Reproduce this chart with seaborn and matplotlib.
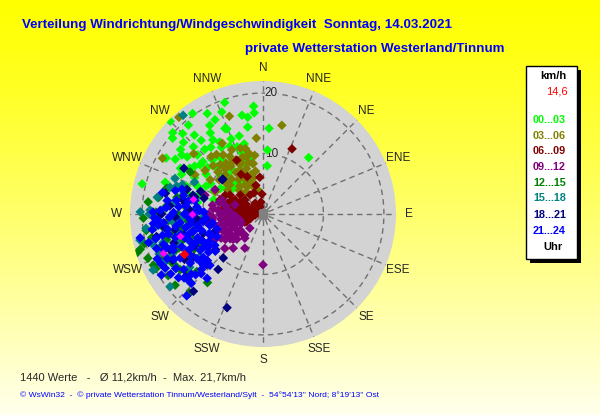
import numpy as np
import pandas as pd
import matplotlib
matplotlib.use("Agg")
import matplotlib.pyplot as plt
import matplotlib.patches as patches
import seaborn as sns

sns.set_style("white")
plt.rcParams['font.family'] = ['Liberation Sans', 'DejaVu Sans']

# wind direction (deg) and speed (km/h), per 3 hour block
periods = ['00...03', '03...06', '06...09', '09...12', '12...15', '15...18', '18...21', '21...24']
colors = ['#00FF00', '#808000', '#800000', '#800080', '#008000', '#008080', '#000080', '#0000FF']

dir_00 = [315, 325, 331, 338, 348, 355, 329, 337, 350, 312, 315, 319, 320, 326, 329, 334, 312, 318, 302, 307,
          312, 308, 314, 339, 341, 349, 4, 4, 5, 286, 288, 316, 321, 302, 308, 355, 39, 284, 351, 336,
          310, 317, 323, 305, 298, 300, 312, 325, 333, 295, 290, 296, 318, 305, 280, 286, 328, 343, 300, 310,
          284, 287, 282, 322, 327, 333, 311, 305, 299, 315, 330, 337, 345, 320, 341, 306, 293, 318, 340, 328,
          311, 301, 296]
spd_00 = [21.7, 20.3, 19.0, 18.2, 16.7, 17.9, 17.1, 15.3, 14.6, 20.1, 18.8, 17.3, 15.9, 14.8, 13.9, 12.5, 17.7, 14.4, 17.1, 15.7,
          14.6, 17.3, 16.0, 11.9, 10.7, 9.6, 10.6, 14.2, 8.0, 16.0, 17.0, 10.9, 10.5, 14.3, 13.2, 16.8, 12.0, 20.6, 16.2, 15.5,
          12.0, 12.2, 11.5, 11.5, 12.8, 10.0, 9.5, 9.0, 8.0, 9.0, 13.5, 15.0, 7.0, 7.5, 11.0, 8.5, 13.0, 13.5, 18.5, 19.5,
          12.5, 11.0, 13.8, 14.0, 16.0, 17.5, 13.2, 13.8, 15.6, 11.0, 10.0, 13.5, 12.0, 19.2, 19.5, 16.6, 11.8, 8.5, 9.0, 6.0,
          6.5, 8.2, 10.5]

dir_03 = [319, 341, 12, 355, 299, 311, 329, 344, 349, 340, 348, 332, 316, 303, 328, 311, 295, 339, 333, 319,
          348, 307, 300, 347, 340, 255, 325, 336, 320, 343, 314, 322, 330, 337, 345, 310, 326, 318, 304, 333,
          341, 330, 352, 322, 315, 327, 335, 340, 344, 320, 313, 308, 330, 336, 345, 326, 334, 350, 318, 324]
spd_03 = [21.2, 17.1, 15.0, 12.6, 19.0, 15.2, 10.0, 8.8, 8.5, 10.0, 8.6, 8.2, 9.0, 10.4, 5.6, 7.3, 8.7, 6.0, 10.0, 10.8,
          4.1, 12.0, 13.0, 10.3, 4.9, 3.9, 7.0, 7.5, 6.0, 6.8, 11.5, 12.5, 11.0, 9.2, 11.2, 8.0, 9.5, 12.8, 7.0, 6.5,
          11.5, 13.5, 9.8, 4.5, 5.5, 8.2, 9.0, 8.0, 9.8, 9.7, 10.2, 9.2, 5.2, 5.5, 6.2, 11.8, 11.8, 7.2, 7.8, 10.4]

dir_06 = [24, 334, 331, 346, 355, 357, 337, 337, 281, 290, 289, 291, 297, 308, 324, 326, 310, 300, 277, 268,
          253, 258, 246, 337, 300, 287, 276, 263, 274, 279, 228, 285, 275, 282, 284, 290, 270, 282, 270, 262,
          285, 280, 295, 276, 266, 272, 290, 278, 350, 280, 265, 300, 288, 262, 255, 292, 298, 286, 270, 275,
          260, 286, 281, 275, 268, 259, 278, 293, 302, 250, 245, 265, 294, 296, 288]
spd_06 = [11.8, 9.9, 7.5, 4.9, 6.1, 3.3, 6.7, 3.8, 0.8, 1.9, 3.0, 4.1, 5.2, 3.8, 2.2, 3.8, 4.9, 6.3, 5.5, 3.8,
          2.2, 4.7, 3.3, 1.3, 0.5, 6.1, 6.8, 1.3, 2.5, 4.2, 4.7, 2.5, 2.8, 3.0, 3.5, 4.5, 5.5, 5.0, 2.0, 3.0,
          1.2, 1.5, 1.0, 6.8, 4.2, 4.8, 5.8, 6.0, 2.0, 6.3, 5.5, 3.2, 2.2, 6.5, 5.0, 3.6, 4.2, 4.8, 4.2, 3.8,
          4.8, 4.6, 5.8, 3.5, 2.8, 1.8, 1.5, 1.0, 2.0, 2.2, 3.0, 4.2, 5.5, 7.0, 7.5]

dir_09 = [180, 217, 230, 249, 254, 269, 268, 283, 235, 239, 250, 221, 223, 263, 242, 288, 255, 248, 288, 297,
          289, 208, 221, 260, 245, 275, 265, 240, 255, 232, 278, 258, 270, 246, 262, 236, 252, 280, 228, 257,
          263, 249, 243, 238, 252, 272, 276, 266, 259, 244, 233, 226, 285, 271]
spd_09 = [8.4, 5.0, 6.5, 5.0, 6.5, 7.1, 5.5, 6.5, 4.6, 6.7, 7.9, 4.6, 3.2, 8.5, 9.0, 4.9, 3.9, 9.4, 10.1, 8.9,
          7.2, 6.4, 7.5, 6.0, 6.0, 7.5, 4.5, 8.0, 8.0, 5.5, 6.0, 7.0, 9.0, 4.0, 9.5, 7.5, 5.5, 8.5, 8.5, 5.0,
          7.0, 7.0, 5.2, 6.3, 4.0, 5.3, 8.3, 8.3, 9.0, 7.0, 6.8, 6.0, 7.5, 6.5]

dir_12 = [253, 254, 249, 243, 237, 231, 223, 219, 276, 279, 269, 258, 252, 246, 242, 236, 229, 263, 258, 266,
          250, 245, 240, 274, 281, 300, 231, 223, 260, 270, 248, 255, 265, 240, 235, 275, 262, 245, 285, 268,
          256, 247, 239, 233, 227, 264, 271, 252, 243, 260]
spd_12 = [21.7, 21.1, 20.4, 19.9, 18.7, 18.7, 17.8, 14.6, 19.1, 17.5, 17.2, 18.8, 17.9, 18.1, 17.1, 16.5, 14.5, 16.8, 15.7, 15.7,
          12.3, 11.5, 10.7, 16.2, 14.5, 13.9, 15.5, 18.0, 13.5, 14.0, 15.0, 16.5, 12.5, 14.0, 13.0, 12.8, 19.5, 20.0, 16.5, 19.8,
          20.2, 16.0, 16.8, 15.8, 16.5, 18.0, 17.7, 14.0, 12.8, 11.0]

dir_15 = [321, 271, 270, 272, 258, 243, 232, 249, 263, 292, 286, 290, 281, 252, 243, 267, 277, 282, 267, 258,
          236, 279, 260, 250, 272, 285, 262, 246, 238, 255, 275, 295, 265, 254, 244, 269, 279, 288, 257, 248,
          234, 263]
spd_15 = [21.0, 20.3, 18.8, 18.7, 20.8, 20.4, 19.5, 18.4, 18.0, 15.7, 16.0, 14.2, 12.0, 15.0, 14.1, 13.7, 15.0, 11.5, 9.9, 8.9,
          12.6, 17.7, 16.0, 13.0, 16.5, 13.5, 11.5, 16.5, 17.0, 19.0, 11.0, 12.5, 15.0, 17.2, 18.0, 12.3, 13.0, 15.0, 14.2, 12.0,
          15.0, 19.5]

dir_18 = [201, 222, 300, 282, 222, 219, 231, 233, 262, 249, 273, 262, 280, 252, 310, 288, 284, 311, 285, 268,
          255, 245, 240, 258, 275, 290, 265, 250, 228, 260, 252, 270, 278, 247, 238, 243, 285, 266, 256]
spd_18 = [16.6, 17.2, 15.1, 16.5, 9.8, 11.8, 16.5, 9.8, 16.4, 16.5, 12.1, 11.0, 13.4, 10.4, 8.8, 13.2, 11.6, 8.8, 10.1, 14.5,
          13.5, 12.5, 15.0, 18.0, 15.5, 11.0, 9.5, 8.5, 12.5, 14.8, 15.5, 16.8, 13.0, 11.0, 13.5, 16.8, 12.0, 11.0, 12.0]

dir_21 = [259, 265, 239, 229, 223, 221, 228, 226, 251, 255, 250, 245, 240, 235, 260, 265, 270, 275, 268, 262,
          255, 248, 242, 236, 232, 230, 245, 252, 258, 265, 272, 278, 280, 273, 266, 258, 250, 243, 237, 246,
          253, 260, 238, 233, 228, 241, 256, 248, 263, 270, 276, 283, 285, 240, 235, 244, 252, 232, 226, 262,
          268, 255, 249, 258, 264, 271, 243, 230, 236, 247, 253, 244, 250, 256, 261, 267, 274, 279, 276, 269,
          262, 256, 247, 241, 234, 229, 226, 231, 237, 244, 250, 257, 264, 271, 282, 287, 281, 272, 260, 248,
          239]
spd_21 = [20.7, 18.2, 19.6, 16.5, 18.5, 14.1, 13.7, 12.2, 16.9, 12.6, 11.5, 13.0, 12.0, 11.0, 11.0, 12.0, 13.0, 14.0, 15.5, 14.5,
          15.0, 14.5, 15.5, 14.5, 13.0, 15.5, 17.5, 18.5, 17.0, 16.5, 17.0, 16.0, 12.5, 10.5, 9.5, 9.0, 9.5, 10.0, 9.5, 11.0,
          13.5, 13.0, 17.0, 17.5, 15.0, 18.5, 19.5, 16.0, 10.0, 11.5, 11.0, 13.5, 15.0, 13.8, 16.0, 8.5, 8.0, 10.0, 16.5, 18.5,
          18.0, 10.5, 12.8, 16.0, 13.8, 14.8, 16.5, 12.0, 13.2, 19.0, 17.2, 14.0, 15.8, 14.0, 16.0, 17.5, 16.0, 14.5, 12.8, 12.6,
          12.2, 11.8, 12.0, 11.0, 12.2, 13.0, 14.2, 16.8, 18.2, 18.8, 17.4, 18.2, 17.4, 18.2, 17.0, 14.0, 11.5, 9.8, 8.5, 9.2,
          10.5]

# a few magenta marks and the current value
dir_mag = [249, 255, 270, 282]
spd_mag = [17.8, 14.2, 11.7, 11.8]
dir_now = [243]
spd_now = [14.6]

compass = ['N', 'NNE', 'NE', 'ENE', 'E', 'ESE', 'SE', 'SSE', 'S', 'SSW', 'SW', 'WSW', 'W', 'WNW', 'NW', 'NNW']
legend_lines = ['km/h', '14,6'] + periods + ['Uhr']

dirs = [dir_00, dir_03, dir_06, dir_09, dir_12, dir_15, dir_18, dir_21]
spds = [spd_00, spd_03, spd_06, spd_09, spd_12, spd_15, spd_18, spd_21]
frames = []
for p, d, s in zip(periods, dirs, spds):
    frames.append(pd.DataFrame({'theta': np.deg2rad(d), 'speed': s, 'period': p}))
df = pd.concat(frames, ignore_index=True)

W, H = 600, 415
fig = plt.figure(figsize=(6, 4.15), dpi=100)

def fx(x):
    return x / W

def fy(y):
    return 1 - y / H

# yellow gradient background
bg = fig.add_axes([0, 0, 1, 1], zorder=-5)
grad = np.linspace(0, 1, 256)[:, None]
rgb = np.ones((256, 1, 3))
rgb[:, 0, 2] = 0.93 * grad[:, 0] ** 1.2
bg.imshow(rgb, aspect='auto', extent=[0, 1, 0, 1])
bg.axis('off')

# polar plot, center (263, 214) px, radius 133 px = 22 km/h
cx, cy, R = 263, 214, 133
ax = fig.add_axes([fx(cx - R), fy(cy + R), 2 * R / W, 2 * R / H], projection='polar')
ax.set_theta_zero_location('N')
ax.set_theta_direction(-1)
ax.set_rlim(0, 22)
ax.set_facecolor('#D3D3D3')
ax.grid(False)
ax.set_xticks([])
ax.set_yticks([])
ax.spines['polar'].set_visible(False)

t = np.linspace(0, 2 * np.pi, 300)
for rr in [10, 20]:
    ax.plot(t, np.full_like(t, rr), color='#707070', lw=1, ls=(0, (4, 3)), zorder=1)
ax.plot(t, np.full_like(t, 1.0), color='#707070', lw=0.8, ls=(0, (2, 2)), zorder=1)
for k in range(16):
    a = np.deg2rad(k * 22.5)
    ax.plot([a, a], [1.0, 22], color='#707070', lw=1, ls=(0, (4, 3)), zorder=1)

ax.text(np.deg2rad(4), 20, '20', fontsize=8.5, ha='center', va='center', zorder=2,
        bbox=dict(facecolor='#D3D3D3', edgecolor='none', pad=0.2))
ax.text(np.deg2rad(8), 10, '10', fontsize=8.5, ha='center', va='center', zorder=2,
        bbox=dict(facecolor='#D3D3D3', edgecolor='none', pad=0.2))
ax.text(np.deg2rad(20), 1.4, '0', fontsize=5, color='#606060', ha='center', va='center', zorder=2)

sns.scatterplot(data=df, x='theta', y='speed', hue='period', hue_order=periods,
                palette=dict(zip(periods, colors)), marker='D', s=24, linewidth=0,
                legend=False, ax=ax, zorder=3)
ax.scatter(np.deg2rad(dir_mag), spd_mag, marker='D', s=16, color='#FF00FF', linewidths=0, zorder=4)
ax.scatter(np.deg2rad(dir_now), spd_now, marker='D', s=24, color='#FF0000', linewidths=0, zorder=5)
ax.scatter([0], [0], marker='s', s=30, color='#808080', zorder=4)
ax.set_xlabel('')
ax.set_ylabel('')

for k, name in enumerate(compass):
    ax.text(np.deg2rad(k * 22.5), 24.2, name, fontsize=8.5, ha='center', va='center', clip_on=False)

# titles
fig.text(fx(22), fy(25), 'Verteilung Windrichtung/Windgeschwindigkeit  Sonntag, 14.03.2021',
         color='#0000FF', fontsize=9.6, fontweight='bold', va='center')
fig.text(fx(245), fy(49), 'private Wetterstation Westerland/Tinnum',
         color='#0000FF', fontsize=9.6, fontweight='bold', va='center')

# legend box with shadow
fig.patches.append(patches.Rectangle((fx(530), fy(263)), 51 / W, 193 / H, transform=fig.transFigure,
                                     facecolor='black', edgecolor='none', zorder=1))
fig.patches.append(patches.Rectangle((fx(526), fy(259)), 51 / W, 193 / H, transform=fig.transFigure,
                                     facecolor='white', edgecolor='black', lw=1, zorder=2))
leg_y = [76, 92, 120, 136, 151, 167, 183, 198, 215, 231, 247]
leg_c = ['black', '#FF0000'] + colors + ['black']
for txt, yy, cc in zip(legend_lines, leg_y, leg_c):
    if txt == '14,6':
        fig.text(fx(568), fy(yy), txt, color=cc, fontsize=8, ha='right', va='center', zorder=3)
    elif txt in ('km/h', 'Uhr'):
        fig.text(fx(553), fy(yy), txt, color=cc, fontsize=8, fontweight='bold', ha='center', va='center', zorder=3)
    else:
        fig.text(fx(533), fy(yy), txt, color=cc, fontsize=7.8, fontweight='bold', va='center', zorder=3)

# footer
fig.text(fx(20), fy(377), '1440 Werte   -   Ø 11,2km/h  -  Max. 21,7km/h', fontsize=8, va='center')
fig.text(fx(20), fy(395), "© WsWin32  -  © private Wetterstation Tinnum/Westerland/Sylt  -  54°54'13'' Nord; 8°19'13'' Ost",
         fontsize=6.1, color='#0000FF', va='center')

fig.savefig('out.png', dpi=100)
